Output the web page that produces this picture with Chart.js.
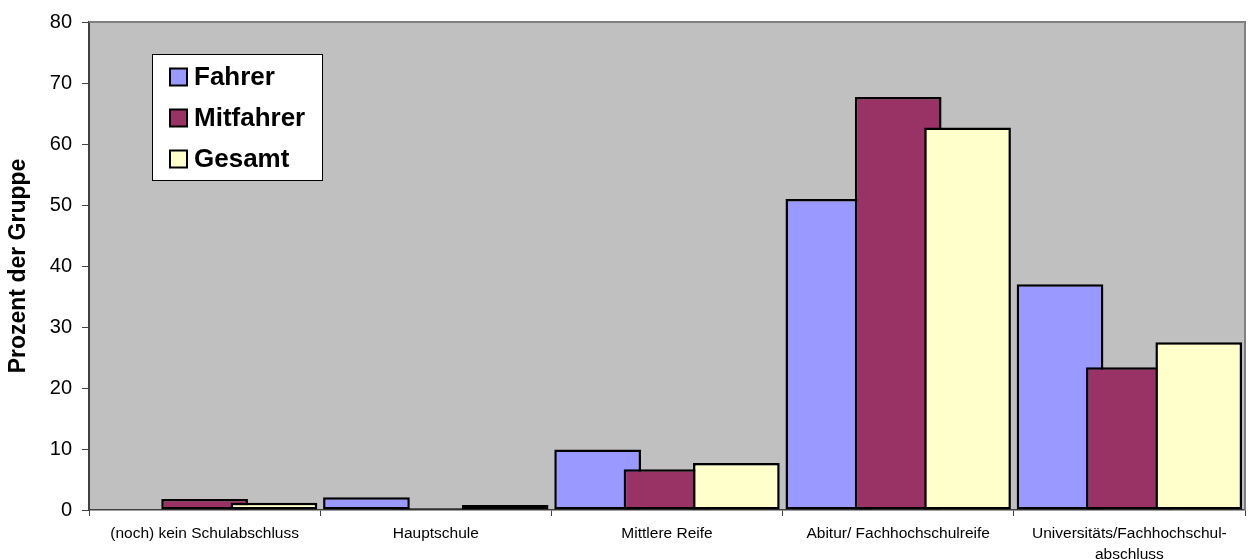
<!DOCTYPE html>
<html>
<head>
<meta charset="utf-8">
<script src="https://cdn.jsdelivr.net/npm/chart.js@4/dist/chart.umd.min.js"></script>
<style>
  body { margin: 0; background: #fff; }
  #wrap { width: 1248px; height: 559px; position: relative; }
</style>
</head>
<body>
<div id="wrap"><canvas id="chart"></canvas></div>
<script>
// Daten
const categories = [
  '(noch) kein Schulabschluss',
  'Hauptschule',
  'Mittlere Reife',
  'Abitur/ Fachhochschulreife',
  ['Universitäts/Fachhochschul-', 'abschluss']
];
const fahrer    = [0, 2.1, 9.9, 51.0, 37.0];
const mitfahrer = [1.8, 0.3, 6.7, 67.7, 23.4];
const gesamt    = [1.2, 0.8, 7.7, 62.7, 27.5];
const yTicks = [0, 10, 20, 30, 40, 50, 60, 70, 80];

const FONT = 'Arial, "Liberation Sans", sans-serif';

// Hintergrund, Rahmen, und Zeichenreihenfolge wie in Excel (rechter Balken oben)
const plotArea = {
  id: 'plotArea',
  beforeDraw(chart) {
    const { ctx, chartArea: a } = chart;
    ctx.save();
    ctx.fillStyle = '#C0C0C0';
    ctx.fillRect(a.left, a.top, a.right - a.left, a.bottom - a.top);
    ctx.restore();
  },
  beforeDatasetsDraw(chart) {
    const metas = chart.getSortedVisibleDatasetMetas();
    metas.forEach(meta => chart._drawDataset(meta));
    return false;
  },
  afterDraw(chart) {
    const { ctx, chartArea: a } = chart;
    ctx.save();
    ctx.strokeStyle = '#808080';
    ctx.lineWidth = 2;
    ctx.beginPath();
    ctx.moveTo(a.left, a.top);
    ctx.lineTo(a.right, a.top);
    ctx.lineTo(a.right, a.bottom);
    ctx.stroke();
    ctx.restore();
  }
};

// Legende innerhalb der Zeichenfläche
const boxLegend = {
  id: 'boxLegend',
  afterDraw(chart) {
    const { ctx, chartArea: a } = chart;
    const x = a.left + 63, y = a.top + 32, w = 170, h = 126;
    ctx.save();
    ctx.fillStyle = '#fff';
    ctx.fillRect(x, y, w, h);
    ctx.strokeStyle = '#000';
    ctx.lineWidth = 1;
    ctx.strokeRect(x + 0.5, y + 0.5, w, h);
    ctx.font = 'bold 26px ' + FONT;
    ctx.textBaseline = 'middle';
    chart.data.datasets.forEach((ds, i) => {
      const cy = y + 23 + i * 41;
      ctx.fillStyle = ds.backgroundColor;
      ctx.fillRect(x + 18, cy - 8.5, 17, 17);
      ctx.lineWidth = 2;
      ctx.strokeStyle = '#000';
      ctx.strokeRect(x + 18, cy - 8.5, 17, 17);
      ctx.fillStyle = '#000';
      ctx.fillText(ds.label, x + 42, cy + 1);
    });
    ctx.restore();
  }
};

const barStyle = { borderColor: '#000', borderWidth: 2.5, borderSkipped: false,
                   barPercentage: 1.25, categoryPercentage: 0.9 };

new Chart(document.getElementById('chart'), {
  type: 'bar',
  data: {
    labels: categories,
    datasets: [
      { label: 'Fahrer', data: fahrer, backgroundColor: '#9999FF', ...barStyle },
      { label: 'Mitfahrer', data: mitfahrer, backgroundColor: '#993366', ...barStyle },
      { label: 'Gesamt', data: gesamt, backgroundColor: '#FFFFCC', ...barStyle }
    ]
  },
  options: {
    responsive: true,
    maintainAspectRatio: false,
    animation: false,
    layout: { padding: { top: 22, right: 3, left: 0, bottom: 0 } },
    plugins: {
      legend: { display: false },
      tooltip: { enabled: false }
    },
    scales: {
      x: {
        grid: { offset: true, drawOnChartArea: false, drawTicks: true, tickLength: 6, color: '#404040' },
        border: { color: '#404040', width: 1.5 },
        ticks: { color: '#000', font: { family: FONT, size: 15.5, lineHeight: 1.3 }, maxRotation: 0, autoSkip: false, padding: 8 },
        afterFit(scale) { scale.height = 49; }
      },
      y: {
        min: 0, max: 80,
        afterBuildTicks(scale) { scale.ticks = yTicks.map(v => ({ value: v })); },
        grid: { drawOnChartArea: false, drawTicks: true, tickLength: 7, color: '#404040' },
        border: { color: '#404040', width: 2 },
        ticks: { color: '#000', font: { family: FONT, size: 20 }, padding: 10 },
        title: { display: true, text: 'Prozent der Gruppe', color: '#000',
                 font: { family: FONT, size: 23, weight: 'bold' }, padding: { top: 5, bottom: 0 } },
        afterFit(scale) { scale.width = 89; }
      }
    }
  },
  plugins: [plotArea, boxLegend]
});
</script>
</body>
</html>
